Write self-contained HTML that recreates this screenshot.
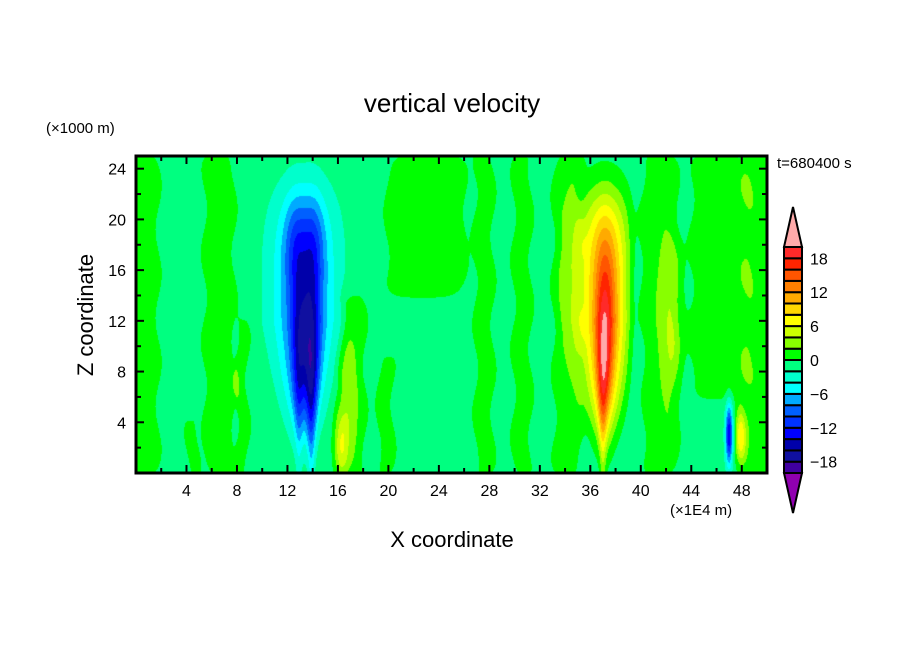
<!DOCTYPE html>
<html><head><meta charset="utf-8"><style>
html,body{margin:0;padding:0;background:#fff;}
#root{position:relative;width:904px;height:654px;overflow:hidden;font-family:"Liberation Sans",sans-serif;color:#000;}
.t{position:absolute;white-space:nowrap;}
</style></head><body>
<div id="root">
<div class="t" style="left:0;width:904px;text-align:center;top:88px;font-size:26px;">vertical velocity</div>
<div class="t" style="left:46px;top:120px;font-size:15px;">(×1000 m)</div>
<div class="t" style="left:777px;top:155px;font-size:15px;">t=680400 s</div>
<div class="t" style="left:670px;top:502px;font-size:15px;">(×1E4 m)</div>
<div class="t" style="left:0;width:904px;text-align:center;top:527px;font-size:22px;">X coordinate</div>
<div class="t" style="left:86px;top:315px;font-size:22px;transform:translate(-50%,-50%) rotate(-90deg);">Z coordinate</div>
<canvas id="cv" width="631" height="317" style="position:absolute;left:136px;top:156px;"></canvas>
<svg id="sv" width="904" height="654" style="position:absolute;left:0;top:0;"></svg>
</div>
<script>
// Data
const xTicks=[4,8,12,16,20,24,28,32,36,40,44,48];
const zTicks=[4,8,12,16,20,24];
const levels=[-20,-18,-16,-14,-12,-10,-8,-6,-4,-2,0,2,4,6,8,10,12,14,16,18,20];
const levelColors=["#4000a0","#1010a0","#0000aa","#0000ff","#0033ff","#0060ff","#00aaff","#00ffff","#00ffcc","#00ff80","#00ff00","#88ff00","#ccff00","#ffff00","#ffd700","#ffaa00","#ff7f00","#ff5500","#ff2400","#ff2a2a"];
const cbLabels=[18,12,6,0,-6,-12,-18];
const baseValue=-1;
// blobs: x, z, amplitude, sigma x, sigma z, taper toward ground (1/0), z exponent
const blobX=[13.3,13.9,12.9,12.6,14.1,37.1,37.0,37.5,16.2,47.0,47.9,42.5,39.5,16.8];
const blobZ=[12.5,8,9,18,18,12.5,8,12,2.5,3,3,12,14,6];
const blobA=[-9,-9,-6,-3,-3,12,9,4,5,-13,8,3.5,-2.5,2];
const blobSX=[1.6,0.5,0.45,0.6,0.6,1.5,0.45,0.5,0.4,0.2,0.3,0.6,0.5,0.5];
const blobSZ=[8,5.5,5,2.8,2.8,8,5.5,4.5,2.2,1.6,1.6,4.5,5,4];
const blobT=[1,1,1,0,0,1,1,1,0,0,0,0,0,0];
const blobP=[4,2,2,2,2,4,2,2,2,2,2,2,2,2];
// green stripes: x center, half width, z bottom, z top, amplitude
const stripeX=[0.7,6.6,17.2,23,27.6,30.6,34.2,41.5,46.2,49.2,8.4,19.8,4.5];
const stripeW=[0.9,1.0,0.8,2.6,0.6,0.6,0.9,1.1,1.8,0.9,0.4,0.5,0.4];
const stripeZ0=[0,0,0,14,0,0,0,0,6,0,0,0,0];
const stripeZ1=[25,25,14,25,25,25,25,25,25,25,12,9,4];
const stripeA=[2.4,2.4,2.4,2.4,2.3,2.3,2.4,2.4,2.4,2.4,2.3,2.3,2.3];

const L=136,T=156,W=631,H=317,X0=0,X1=50,Z0=0,Z1=25;
const sx=v=>L+(v-X0)/(X1-X0)*W;
const sz=v=>T+H-(v-Z0)/(Z1-Z0)*H;
function field(x,z){
  let v=baseValue;
  for(let i=0;i<blobX.length;i++){
    const tap=blobT[i]?(0.35+0.65*Math.min(1,z/12)):1;
    const dx=(x-blobX[i])/(blobSX[i]*tap),dz=Math.abs(z-blobZ[i])/blobSZ[i];
    v+=blobA[i]*Math.exp(-0.5*(dx*dx+Math.pow(dz,blobP[i])));
  }
  for(let i=0;i<stripeX.length;i++){
    const xc=stripeX[i]+0.25*Math.sin(z*0.9+i*1.7);
    const dx=(x-xc)/stripeW[i];
    const a=1/(1+Math.exp(-(z-stripeZ0[i])*2)), b=1/(1+Math.exp((z-stripeZ1[i])*2));
    v+=stripeA[i]*Math.exp(-0.5*Math.pow(dx,4)*0.8)*a*b;
  }
  return v;
}
function colorOf(v){
  if(v>=20)return "#ffaaaa";
  if(v<-20)return "#9000b0";
  const k=Math.floor((v+20)/2);
  return levelColors[Math.max(0,Math.min(19,k))];
}
const cv=document.getElementById('cv'),ctx=cv.getContext('2d');
for(let px=0;px<W;px++){
  for(let py=0;py<H;py++){
    const x=X0+(px+0.5)/W*(X1-X0), z=Z1-(py+0.5)/H*(Z1-Z0);
    ctx.fillStyle=colorOf(field(x,z));
    ctx.fillRect(px,py,1,1);
  }
}
const NS='http://www.w3.org/2000/svg',sv=document.getElementById('sv');
function mk(tag,at,parent){const e=document.createElementNS(NS,tag);for(const k in at)e.setAttribute(k,at[k]);(parent||sv).appendChild(e);return e;}
const frame=mk('rect',{x:L,y:T,width:W,height:H,fill:'none',stroke:'#000','stroke-width':3});


for(let v=2;v<50;v+=2){
  const major=v%4===0,len=major?8:5,x=sx(v);
  const t1=mk('line',{x1:x,x2:x,y1:T+H,y2:T+H-len,stroke:'#000','stroke-width':2});
  
  
  const t2=mk('line',{x1:x,x2:x,y1:T,y2:T+len,stroke:'#000','stroke-width':2});
  
  
}
for(let v=2;v<25;v+=2){
  const major=v%4===0,len=major?8:5,y=sz(v);
  const t1=mk('line',{x1:L,x2:L+len,y1:y,y2:y,stroke:'#000','stroke-width':2});
  
  
  const t2=mk('line',{x1:L+W,x2:L+W-len,y1:y,y2:y,stroke:'#000','stroke-width':2});
  
  
}
xTicks.forEach(v=>{
  const t=mk('text',{x:sx(v),y:T+H+23,'text-anchor':'middle','font-size':16,'font-family':'Liberation Sans, sans-serif'});
  t.textContent=v;
  
  
});
zTicks.forEach(v=>{
  const t=mk('text',{x:L-10,y:sz(v)+6,'text-anchor':'end','font-size':16,'font-family':'Liberation Sans, sans-serif'});
  t.textContent=v;
  
  
});
// colorbar
const CBL=784,CBW=18,CBT=247,CBB=473,bh=(CBB-CBT)/20;
const cby=v=>CBB-(v-levels[0])/(levels[20]-levels[0])*(CBB-CBT);
levelColors.forEach((c,i)=>{
  const r=mk('rect',{x:CBL,y:cby(levels[i+1]),width:CBW,height:bh,fill:c,stroke:'#000','stroke-width':2});
  
  
});
const up=mk('polygon',{points:`${CBL},${CBT} ${CBL+CBW},${CBT} ${CBL+CBW/2},${CBT-40}`,fill:'#ffaaaa',stroke:'#000','stroke-width':2});


const dn=mk('polygon',{points:`${CBL},${CBB} ${CBL+CBW},${CBB} ${CBL+CBW/2},${CBB+40}`,fill:'#9000b0',stroke:'#000','stroke-width':2});


cbLabels.forEach(v=>{
  const t=mk('text',{x:CBL+CBW+8,y:cby(v)+6,'font-size':16,'font-family':'Liberation Sans, sans-serif'});
  t.textContent=v<0?'\u2212'+(-v):v;
  
  
});
</script>
</body></html>
